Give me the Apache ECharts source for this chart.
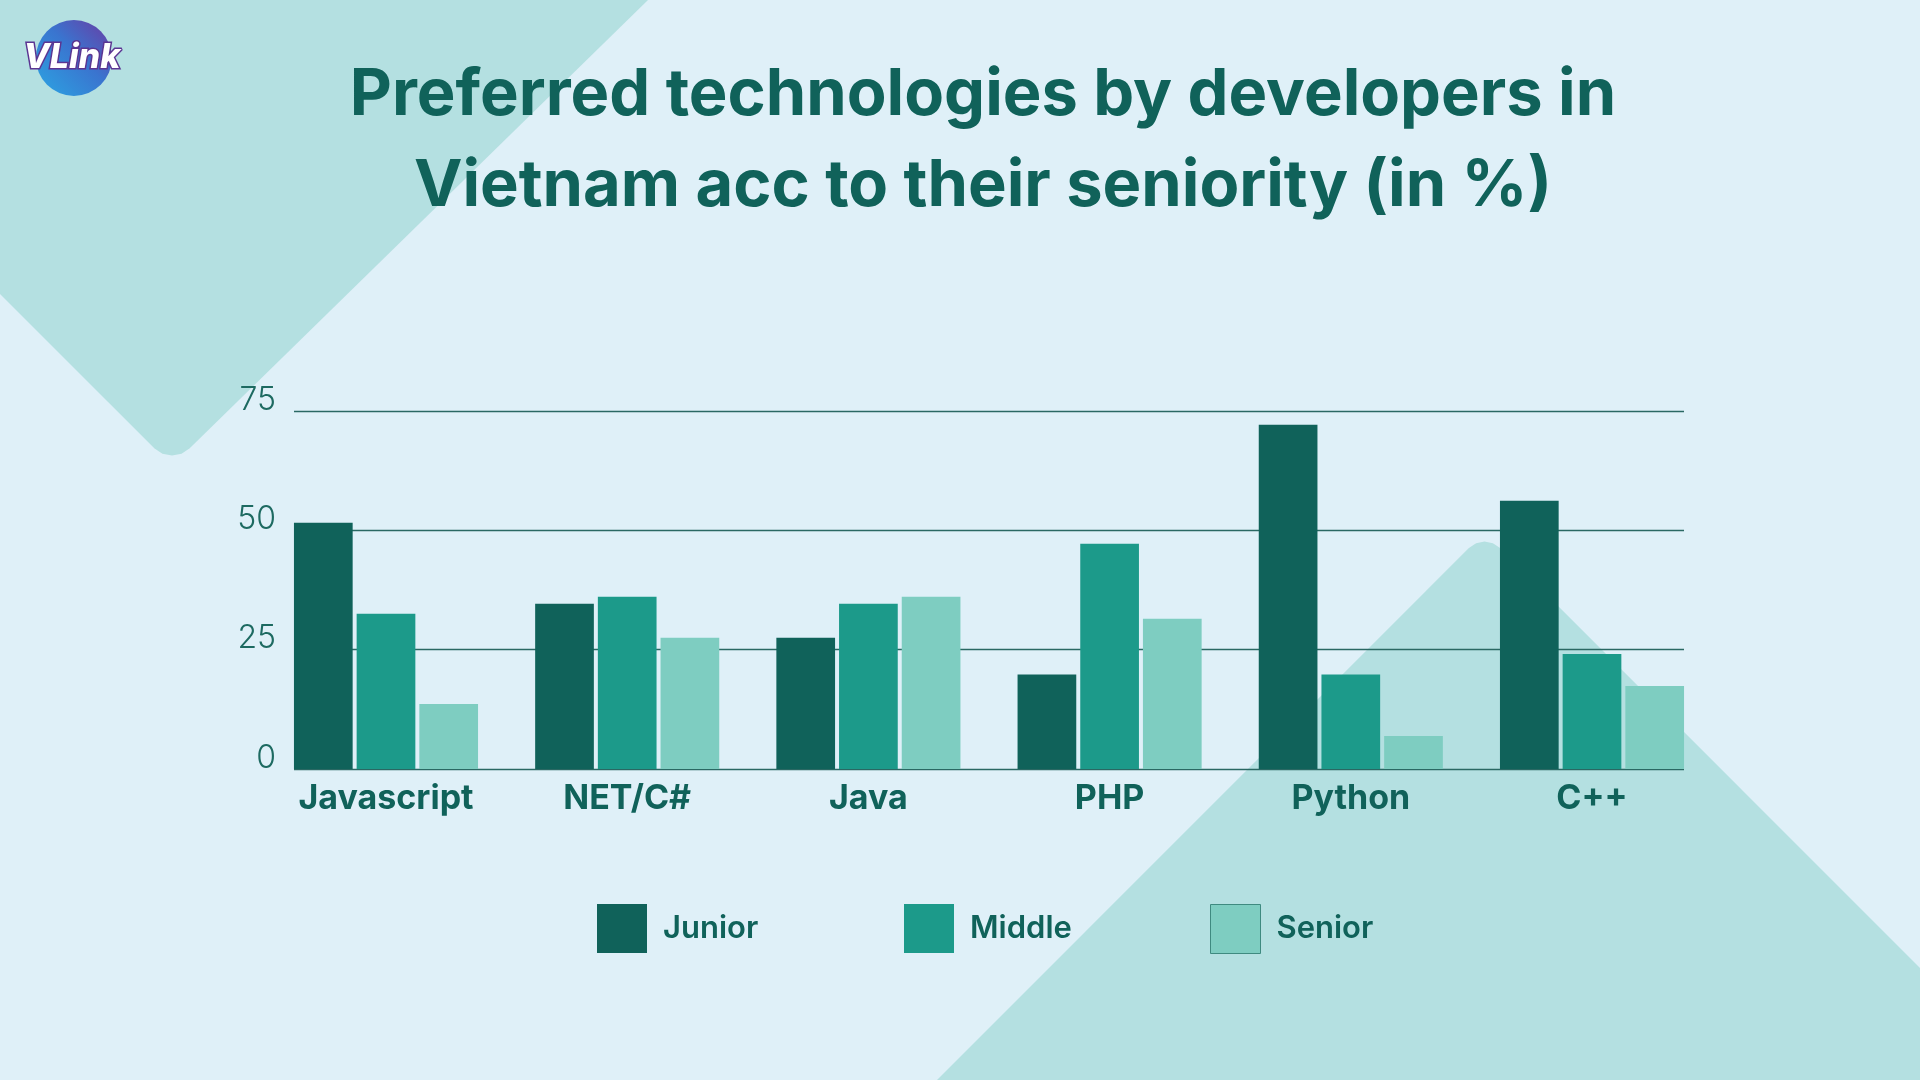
<!DOCTYPE html>
<html>
<head>
<meta charset="utf-8">
<style>
html,body{margin:0;padding:0;background:#dff0f8;}
#chart{width:1920px;height:1080px;}
</style>
<script src="https://cdn.jsdelivr.net/npm/echarts@6/dist/echarts.min.js"></script>
</head>
<body>
<div id="chart"></div>
<script>
const categories = ['Javascript', 'NET/C#', 'Java', 'PHP', 'Python', 'C++'];
const juniorValues = [51.6, 34.6, 27.5, 19.8, 72.1, 56.2];
const middleValues = [32.5, 36.1, 34.6, 47.2, 19.8, 24.1];
const seniorValues = [13.6, 27.5, 36.1, 31.5, 6.9, 17.4];
const seriesNames = ['Junior', 'Middle', 'Senior'];
const yTicks = [0, 25, 50, 75];

const C_JUN = '#10625a', C_MID = '#1c9a8a', C_SEN = '#7ecdc1';
const C_TEXT = '#10625a', C_SHAPE = '#b4e0e1';
const FONT = 'Inter';

function legendAt(left, name, extra) {
  return {
    left: left, top: 904, padding: 0, itemWidth: 50, itemHeight: 49, icon: 'rect',
    data: [Object.assign({ name: name }, extra || {})],
    textStyle: { fontFamily: FONT, fontWeight: 600, fontSize: 31, color: C_TEXT, padding: [0, 0, 0, 11] }
  };
}

const chart = echarts.init(document.getElementById('chart'));
const option = {
  backgroundColor: '#dff0f8',
  animation: false,
  title: {
    text: 'Preferred technologies by developers in\nVietnam acc to their seniority (in %)',
    left: 978, top: 45, textAlign: 'center',
    textStyle: { fontFamily: FONT, fontWeight: 700, fontSize: 65, lineHeight: 91, color: C_TEXT }
  },
  graphic: [
    { type: 'polygon', z: -10, silent: true,
      shape: { points: [[0,0],[648,0],[189.7,448.3],[181.6,453.7],[172,455.6],[162.4,453.7],[154.3,448.3],[0,294]] },
      style: { fill: C_SHAPE } },
    { type: 'polygon', z: -10, silent: true,
      shape: { points: [[1468.9,548],[1476.1,543.3],[1484.5,541.6],[1492.9,543.3],[1500.1,548],[1920,968],[1920,1080],[937,1080]] },
      style: { fill: C_SHAPE } },
    { type: 'group', left: 22, top: 20, children: [
      { type: 'circle', shape: { cx: 52, cy: 40, r: 38 },
        style: { fill: new echarts.graphic.LinearGradient(0, 1, 1, 0, [{offset:0,color:'#2ba6e3'},{offset:0.55,color:'#3a74cf'},{offset:1,color:'#6b3aa2'}]) } },
      { type: 'text', x: 50, y: 40,
        style: { text: 'VLink', fill: '#ffffff', stroke: '#5b3592', lineWidth: 3, font: 'italic 800 34px Inter', textAlign: 'center', textVerticalAlign: 'middle' } }
    ]}
  ],
  legend: [
    legendAt(597, seriesNames[0]),
    legendAt(904, seriesNames[1]),
    legendAt(1210, seriesNames[2], { itemStyle: { borderColor: '#3f8a80', borderWidth: 1 } })
  ],
  grid: [
    { left: 294, right: 236, top: 411, bottom: 311 },
    { left: 265.4, right: 207.4, top: 411, bottom: 311 }
  ],
  xAxis: [
    { type: 'category', gridIndex: 0, data: categories, axisLine: { show: false }, axisTick: { show: false }, axisLabel: { show: false } },
    { type: 'category', gridIndex: 1, data: categories, axisLine: { show: false }, axisTick: { show: false },
      axisLabel: { margin: 13, fontFamily: FONT, fontWeight: 700, fontSize: 34, color: C_TEXT } }
  ],
  yAxis: [
    { type: 'value', gridIndex: 0, min: 0, max: 75, interval: 25,
      axisLine: { show: false }, axisTick: { show: false },
      splitLine: { lineStyle: { color: '#2a6863', width: 1.3 } },
      axisLabel: { margin: 18, fontFamily: FONT, fontWeight: 300, fontSize: 32, color: '#1d6a61', verticalAlign: 'bottom', lineHeight: 22 } },
    { type: 'value', gridIndex: 1, min: 0, max: 75, interval: 25, show: false, splitLine: { show: false } }
  ],
  series: [
    { name: seriesNames[0], type: 'bar', xAxisIndex: 1, yAxisIndex: 1, data: juniorValues, barWidth: 58.7, barGap: '6.8%', itemStyle: { color: C_JUN } },
    { name: seriesNames[1], type: 'bar', xAxisIndex: 1, yAxisIndex: 1, data: middleValues, barWidth: 58.7, barGap: '6.8%', itemStyle: { color: C_MID } },
    { name: seriesNames[2], type: 'bar', xAxisIndex: 1, yAxisIndex: 1, data: seniorValues, barWidth: 58.7, barGap: '6.8%', itemStyle: { color: C_SEN } }
  ]
};
chart.setOption(option);
</script>
</body>
</html>
